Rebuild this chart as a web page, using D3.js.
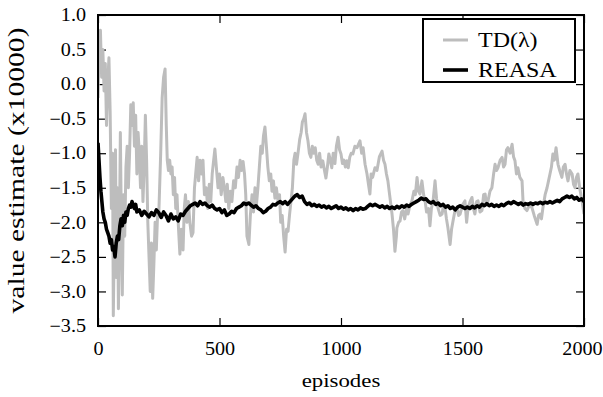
<!DOCTYPE html>
<html>
<head>
<meta charset="utf-8">
<script src="https://cdn.jsdelivr.net/npm/d3@7"></script>
<style>
  body { margin: 0; background: #fff; }
  svg { display: block; font-family: "Liberation Serif", serif; }
</style>
</head>
<body>
<svg id="chart"></svg>
<script>
// TD(lambda) estimates (episode, value x10000)
const tdEpisodes = [0,5,10,15,20,25,30,35,40,45,50,55,60,63,68,72,76,80,84,88,92,96,100,105,110,115,120,125,130,135,140,145,150,155,160,165,170,175,180,185,190,195,200,205,210,215,220,225,230,235,240,245,250,258,264,270,276,281,285,290,295,300,305,310,315,320,325,330,337,343,350,355,360,366,372,378,385,391,397,402,408,414,420,426,432,438,445,452,458,464,470,476,481,487,494,500,507,514,520,526,532,538,545,551,558,565,572,578,585,591,597,603,608,613,621,627,634,640,646,652,658,664,670,676,681,687,693,699,705,711,716,722,728,734,741,747,752,758,764,770,776,782,788,794,800,806,811,817,823,830,836,841,847,852,858,864,870,876,882,888,894,900,906,912,918,925,932,938,944,950,956,962,968,975,981,988,994,1000,1006,1012,1018,1024,1030,1036,1042,1049,1057,1066,1078,1085,1091,1099,1107,1113,1119,1124,1130,1140,1148,1158,1169,1175,1181,1187,1193,1200,1210,1216,1222,1228,1230,1237,1243,1249,1255,1262,1270,1276,1284,1292,1300,1306,1313,1319,1325,1333,1340,1346,1352,1360,1366,1372,1379,1387,1393,1399,1408,1416,1422,1428,1434,1440,1449,1455,1461,1468,1477,1484,1490,1500,1510,1517,1523,1531,1539,1545,1551,1558,1564,1572,1580,1587,1593,1599,1605,1613,1621,1628,1634,1640,1646,1655,1663,1669,1675,1681,1687,1696,1704,1710,1716,1722,1728,1736,1745,1749,1757,1765,1775,1786,1795,1807,1813,1819,1825,1831,1840,1848,1854,1860,1866,1872,1878,1885,1893,1900,1909,1915,1922,1928,1934,1942,1951,1957,1963,1969,1975,1982,1992,2000];
const tdValues = [-0.2,0.6,0.78,0.1,0.5,-0.1,0.3,-0.6,0.0,0.38,-0.4,-1.8,-1.0,-3.35,-2.0,-0.95,-2.8,-1.5,-3.25,-2.2,-0.7,-2.0,-3.05,-1.6,-2.2,-1.2,-0.9,-1.5,-1.0,-0.3,-0.6,-0.27,-0.9,-0.45,-1.3,-0.7,-1.0,-1.5,-0.9,-1.7,-1.2,-0.45,-1.1,-2.0,-2.5,-3.0,-2.3,-3.1,-2.6,-2.0,-2.4,-1.9,-1.9,-1.0,-0.2,0.1,0.22,-0.6,-1.1,-1.25,-1.1,-1.3,-1.2,-1.6,-1.35,-1.8,-1.6,-2.0,-2.46,-2.1,-2.4,-1.8,-1.6,-2.0,-1.7,-2.0,-2.2,-2.15,-1.5,-1.3,-1.06,-1.4,-1.1,-1.3,-1.1,-1.6,-1.5,-1.8,-1.45,-1.7,-1.3,-1.1,-0.94,-1.2,-1.5,-1.3,-1.6,-1.35,-1.5,-1.7,-1.45,-1.8,-1.55,-1.7,-1.4,-1.5,-1.2,-1.35,-1.1,-1.25,-1.12,-1.3,-1.6,-2.2,-2.32,-1.9,-1.6,-1.85,-1.5,-1.75,-1.5,-1.2,-0.9,-1.0,-0.75,-0.62,-0.9,-1.2,-1.4,-1.3,-1.55,-1.4,-1.65,-1.5,-1.7,-1.6,-2.0,-1.9,-2.2,-2.43,-2.1,-2.13,-1.9,-1.7,-1.5,-1.1,-1.0,-1.16,-1.0,-0.8,-0.7,-0.55,-0.5,-0.43,-0.7,-0.82,-1.0,-1.06,-0.9,-1.0,-0.92,-1.1,-1.16,-1.0,-1.2,-1.11,-1.25,-1.36,-1.2,-1.01,-1.1,-1.21,-1.0,-1.15,-0.9,-0.77,-0.95,-1.01,-1.15,-1.1,-1.2,-1.11,-1.21,-1.06,-1.0,-1.01,-0.9,-0.92,-0.82,-1.0,-0.92,-1.16,-1.3,-1.45,-1.59,-1.3,-1.35,-1.21,-1.25,-1.05,-0.97,-1.1,-1.16,-1.3,-1.4,-1.6,-1.88,-2.1,-2.42,-2.2,-2.08,-2.0,-1.98,-1.85,-1.83,-1.95,-1.8,-1.88,-1.75,-1.69,-1.55,-1.6,-1.35,-1.55,-1.59,-1.4,-1.6,-1.69,-1.85,-1.8,-2.05,-1.8,-1.69,-1.4,-1.65,-1.79,-1.9,-1.88,-1.75,-1.79,-1.95,-2.08,-2.32,-2.1,-1.98,-1.85,-1.79,-1.9,-1.88,-1.75,-1.69,-2.0,-1.79,-1.7,-1.64,-1.8,-1.88,-1.7,-1.69,-1.85,-1.83,-1.6,-1.59,-1.75,-1.69,-1.55,-1.5,-1.3,-1.16,-1.25,-1.21,-1.1,-1.06,-1.2,-1.16,-0.95,-0.92,-1.0,-0.87,-1.05,-1.11,-1.3,-1.21,-1.35,-1.4,-1.69,-1.8,-1.83,-1.75,-1.79,-1.9,-2.03,-1.9,-1.88,-1.95,-1.79,-1.6,-1.5,-1.4,-1.3,-1.2,-1.01,-1.1,-0.92,-1.16,-1.25,-1.35,-1.2,-1.16,-1.3,-1.4,-1.25,-1.3,-1.45,-1.5,-1.35,-1.3,-1.5,-1.69,-1.88];

// REASA estimates
const reasaEpisodes = [0,4,8,12,16,20,25,30,35,40,45,50,55,60,65,70,75,80,85,90,95,100,105,110,115,120,125,130,135,140,145,150,155,160,170,180,190,200,210,220,230,240,250,260,270,280,290,300,310,320,330,340,350,360,370,380,390,400,410,420,430,440,450,460,470,480,490,500,510,520,530,540,550,560,570,580,590,600,610,620,630,640,650,660,670,680,690,700,710,720,730,740,750,760,770,780,790,800,810,820,830,840,850,860,870,880,890,900,910,920,930,940,950,960,970,980,990,1000,1010,1020,1030,1040,1050,1060,1070,1080,1090,1100,1110,1120,1130,1140,1150,1160,1170,1180,1190,1200,1210,1220,1230,1240,1250,1260,1270,1280,1290,1300,1310,1320,1330,1340,1350,1360,1370,1380,1390,1400,1410,1420,1430,1440,1450,1460,1470,1480,1490,1500,1510,1520,1530,1540,1550,1560,1570,1580,1590,1600,1610,1620,1630,1640,1650,1660,1670,1680,1690,1700,1710,1720,1730,1740,1750,1760,1770,1780,1790,1800,1810,1820,1830,1840,1850,1860,1870,1880,1890,1900,1910,1920,1930,1940,1950,1960,1970,1980,1990,2000];
const reasaValues = [-0.85,-1.1,-1.35,-1.55,-1.7,-1.85,-1.95,-2.0,-2.1,-2.15,-2.2,-2.3,-2.25,-2.4,-2.35,-2.5,-2.3,-2.2,-2.25,-2.05,-1.95,-2.05,-1.9,-2.0,-1.85,-1.9,-1.8,-1.75,-1.78,-1.7,-1.76,-1.8,-1.74,-1.85,-1.82,-1.9,-1.84,-1.88,-1.92,-1.86,-1.9,-1.82,-1.86,-1.93,-1.85,-1.9,-1.98,-1.88,-1.95,-1.92,-1.98,-1.88,-1.9,-1.84,-1.8,-1.76,-1.74,-1.72,-1.76,-1.7,-1.74,-1.72,-1.76,-1.78,-1.75,-1.8,-1.82,-1.8,-1.86,-1.82,-1.9,-1.88,-1.84,-1.86,-1.8,-1.78,-1.76,-1.72,-1.74,-1.72,-1.75,-1.78,-1.76,-1.8,-1.82,-1.86,-1.84,-1.8,-1.78,-1.74,-1.75,-1.72,-1.7,-1.73,-1.7,-1.74,-1.7,-1.66,-1.62,-1.6,-1.64,-1.62,-1.7,-1.74,-1.72,-1.76,-1.74,-1.77,-1.75,-1.78,-1.76,-1.79,-1.77,-1.8,-1.78,-1.76,-1.8,-1.78,-1.81,-1.79,-1.82,-1.8,-1.83,-1.8,-1.82,-1.79,-1.81,-1.8,-1.77,-1.74,-1.76,-1.74,-1.76,-1.78,-1.76,-1.79,-1.77,-1.8,-1.78,-1.8,-1.77,-1.79,-1.76,-1.78,-1.75,-1.77,-1.74,-1.72,-1.7,-1.68,-1.65,-1.67,-1.66,-1.7,-1.72,-1.7,-1.74,-1.72,-1.76,-1.74,-1.78,-1.76,-1.8,-1.78,-1.82,-1.78,-1.76,-1.78,-1.8,-1.78,-1.8,-1.77,-1.79,-1.76,-1.78,-1.74,-1.76,-1.73,-1.76,-1.74,-1.77,-1.75,-1.77,-1.74,-1.76,-1.73,-1.71,-1.73,-1.7,-1.72,-1.74,-1.72,-1.75,-1.73,-1.74,-1.72,-1.74,-1.72,-1.73,-1.71,-1.73,-1.71,-1.72,-1.7,-1.72,-1.7,-1.68,-1.7,-1.66,-1.64,-1.62,-1.64,-1.62,-1.66,-1.64,-1.68,-1.66,-1.7];

const xTicks = [0, 500, 1000, 1500, 2000];
const yTicks = [-3.5, -3.0, -2.5, -2.0, -1.5, -1.0, -0.5, 0.0, 0.5, 1.0];
const seriesNames = ["TD(\u03bb)", "REASA"];
const seriesColors = ["#bdbdbd", "#000000"];

const W = 603, H = 397;
const margin = { top: 15, right: 19, bottom: 71, left: 98 };
const width = W - margin.left - margin.right;
const height = H - margin.top - margin.bottom;

// the reference lettering is a bit wider than Liberation Serif
function stretch(sel, k) {
  sel.each(function() {
    const w = this.getComputedTextLength();
    d3.select(this).attr("textLength", w * k).attr("lengthAdjust", "spacingAndGlyphs");
  });
}

const svg = d3.select("#chart").attr("width", W).attr("height", H);
const g = svg.append("g").attr("transform", `translate(${margin.left},${margin.top})`);

const x = d3.scaleLinear().domain([0, 2000]).range([0, width]);
const y = d3.scaleLinear().domain([-3.5, 1.0]).range([height, 0]);

const fmt = d3.format(".1f");

// axes, ticks pointing inward
g.append("g").attr("class", "axis y")
  .call(d3.axisLeft(y).tickValues(yTicks).tickSize(-8).tickPadding(12).tickFormat(fmt));
g.append("g").attr("class", "axis y2")
  .attr("transform", `translate(${width},0)`)
  .call(d3.axisRight(y).tickValues(yTicks).tickSize(-8).tickFormat(""));
g.append("g").attr("class", "axis x")
  .attr("transform", `translate(0,${height})`)
  .call(d3.axisBottom(x).tickValues(xTicks).tickSize(-8).tickPadding(16).tickFormat(d3.format("d")));
g.append("g").attr("class", "axis x2")
  .call(d3.axisTop(x).tickValues(xTicks).tickSize(-8).tickFormat(""));

g.selectAll(".axis .domain").remove();
g.selectAll(".axis line").attr("stroke", "#000").attr("stroke-width", 1.2);
g.selectAll(".axis text")
  .attr("font-family", "Liberation Serif, serif")
  .attr("font-size", 18)
  .attr("fill", "#000")
  .call(stretch, 1.12);
g.selectAll(".axis.x .tick:last-of-type text").attr("dx", -2);

const line = d3.line()
  .x(d => x(d[0]))
  .y(d => y(d[1]));

g.append("clipPath").attr("id", "clip")
  .append("rect").attr("width", width).attr("height", height);

const plot = g.append("g").attr("clip-path", "url(#clip)");

plot.append("path")
  .datum(d3.zip(tdEpisodes, tdValues))
  .attr("fill", "none")
  .attr("stroke", seriesColors[0])
  .attr("stroke-width", 3)
  .attr("stroke-linejoin", "round")
  .attr("d", line);

plot.append("path")
  .datum(d3.zip(reasaEpisodes, reasaValues))
  .attr("fill", "none")
  .attr("stroke", seriesColors[1])
  .attr("stroke-width", 3.6)
  .attr("stroke-linejoin", "round")
  .attr("d", line);

// frame
g.append("rect")
  .attr("width", width).attr("height", height)
  .attr("fill", "none").attr("stroke", "#000").attr("stroke-width", 2);

// axis labels
svg.append("text")
  .attr("x", margin.left + width / 2).attr("y", 387)
  .attr("text-anchor", "middle")
  .attr("font-size", 19)
  .text("episodes")
  .call(stretch, 1.2);

svg.append("text")
  .attr("transform", `translate(24,${margin.top + height / 2}) rotate(-90)`)
  .attr("text-anchor", "middle")
  .attr("font-size", 23)
  .attr("textLength", 286)
  .attr("lengthAdjust", "spacingAndGlyphs")
  .text("value estimate (x10000)");

// legend
const legend = svg.append("g").attr("transform", "translate(423,19)");
legend.append("rect")
  .attr("width", 152).attr("height", 63)
  .attr("fill", "#fff").attr("stroke", "#000").attr("stroke-width", 2);
seriesNames.forEach((name, i) => {
  const ly = 21 + i * 30;
  legend.append("line")
    .attr("x1", 20).attr("x2", 45).attr("y1", ly).attr("y2", ly)
    .attr("stroke", seriesColors[i]).attr("stroke-width", i ? 3.6 : 3);
  legend.append("text")
    .attr("x", 55).attr("y", ly).attr("dy", "0.35em")
    .attr("font-size", 20)
    .text(name)
    .call(stretch, 1.2);
});
</script>
</body>
</html>
